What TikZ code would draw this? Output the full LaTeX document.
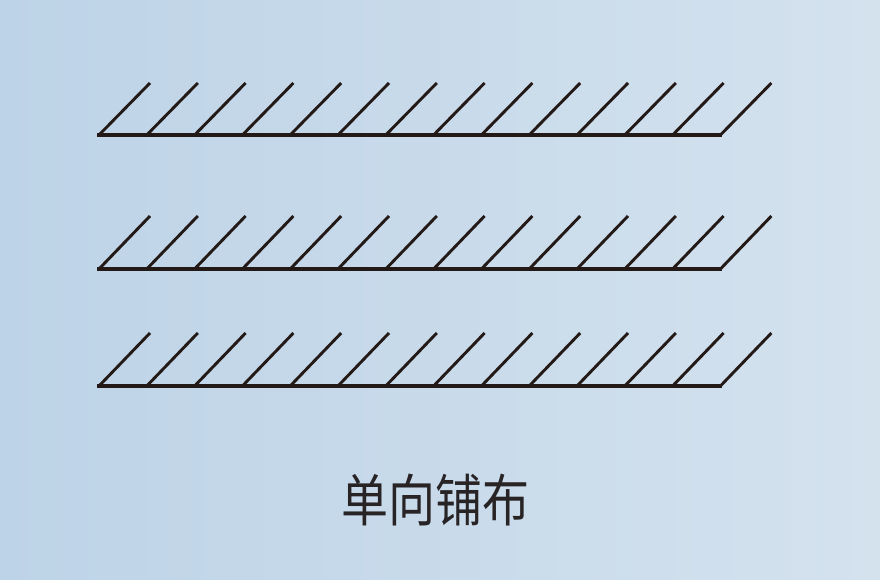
\documentclass[tikz,border=0pt]{standalone}
\usepackage{fontspec}
\newfontfamily\cjk{Noto Sans CJK SC}
\definecolor{bgL}{RGB}{189,211,231}
\definecolor{bgR}{RGB}{212,226,238}
\definecolor{ink}{RGB}{35,25,22}
\definecolor{txt}{RGB}{40,36,38}
\tikzset{
  baseline/.style={draw=ink, line width=3.5pt, line cap=butt},
  hatch/.style={draw=ink, line width=2.9pt, line cap=butt},
  caption/.style={text=txt, inner sep=0pt, font=\cjk\fontsize{47}{52}\selectfont}
}
\begin{document}
\begin{tikzpicture}[x=1pt,y=-1pt]
\useasboundingbox (0,0) rectangle (880,580);
\shade[left color=bgL, right color=bgR] (0,0) rectangle (880,580);
\foreach \yb/\yt in {135/83, 269/216, 386/333}{
  \draw[baseline] (97,\yb) -- (722,\yb);
  \foreach \i in {0,...,13}{
    \pgfmathsetmacro{\xb}{99+\i*47.8}
    \draw[hatch] (\xb,\yb) -- ({\xb+51},\yt);
  }
}
\node[caption] (cap) at (435,500) {\scalebox{1}[1.2]{单向铺布}};
\end{tikzpicture}
\end{document}
